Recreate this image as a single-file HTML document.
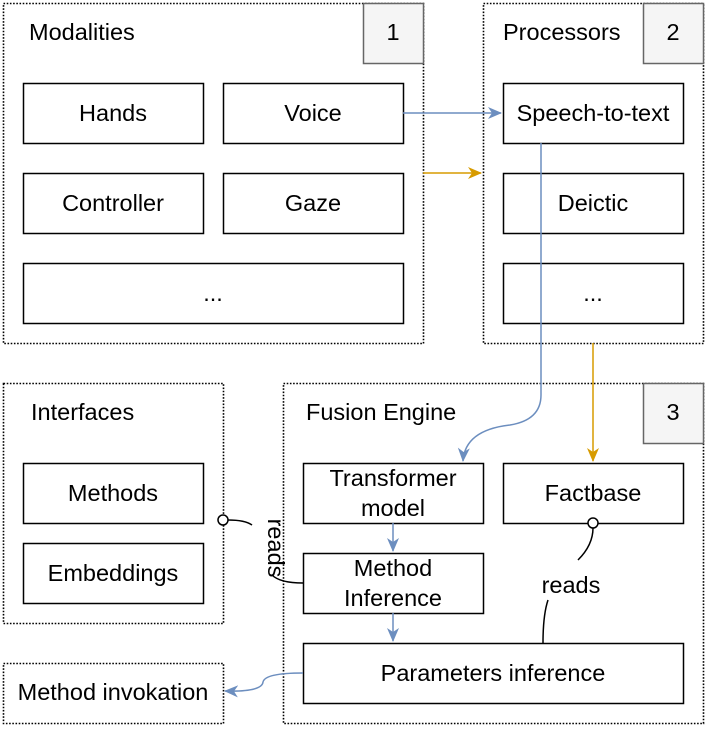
<!DOCTYPE html>
<html><head><meta charset="utf-8"><style>
html,body{margin:0;padding:0;background:#fff;}
svg text{font-family:"Liberation Sans",Arial,sans-serif;font-size:23.5px;fill:#000;}
</style></head><body>
<svg width="706" height="731" viewBox="0 0 706 731" xmlns="http://www.w3.org/2000/svg">
<defs>
<marker id="ab" markerWidth="14" markerHeight="14" refX="13" refY="7" orient="auto" markerUnits="userSpaceOnUse"><path d="M0,1 L14,7 L0,13 L4,7 Z" fill="#6c8ebf"/></marker>
<marker id="ao" markerWidth="14" markerHeight="14" refX="13" refY="7" orient="auto" markerUnits="userSpaceOnUse"><path d="M0,1 L14,7 L0,13 L4,7 Z" fill="#d79b00"/></marker>
</defs>
<g fill="none" stroke="#000" stroke-width="1.6" stroke-dasharray="1.6,1.6">
<rect x="3.5" y="3.5" width="420" height="340"/>
<rect x="483.5" y="3.5" width="220" height="340"/>
<rect x="3.5" y="383.5" width="220" height="240"/>
<rect x="283.5" y="383.5" width="420" height="340"/>
<rect x="3.5" y="663.5" width="220" height="60"/>
</g>
<g fill="#f5f5f5" stroke="#666" stroke-width="1.5">
<rect x="363.5" y="3.5" width="60" height="60"/>
<rect x="643.5" y="3.5" width="60" height="60"/>
<rect x="643.5" y="383.5" width="60" height="60"/>
</g>
<g fill="#fff" stroke="#000" stroke-width="1.5">
<rect x="23.5" y="83.5" width="180" height="60"/>
<rect x="223.5" y="83.5" width="180" height="60"/>
<rect x="23.5" y="173.5" width="180" height="60"/>
<rect x="223.5" y="173.5" width="180" height="60"/>
<rect x="23.5" y="263.5" width="380" height="60"/>
<rect x="503.5" y="83.5" width="180" height="60"/>
<rect x="503.5" y="173.5" width="180" height="60"/>
<rect x="503.5" y="263.5" width="180" height="60"/>
<rect x="23.5" y="463.5" width="180" height="60"/>
<rect x="23.5" y="543.5" width="180" height="60"/>
<rect x="303.5" y="463.5" width="180" height="60"/>
<rect x="503.5" y="463.5" width="180" height="60"/>
<rect x="303.5" y="553.5" width="180" height="60"/>
<rect x="303.5" y="643.5" width="380" height="60"/>
</g>
<g fill="none" stroke-width="1.5">
<path d="M403,113 L501,113" stroke="#6c8ebf" marker-end="url(#ab)"/>
<path d="M423,173 L481,173" stroke="#d79b00" marker-end="url(#ao)"/>
<path d="M541,143 L541,395 Q541,420 510,425 Q465,430 463,461" stroke="#6c8ebf" marker-end="url(#ab)"/>
<path d="M593,343 L593,461" stroke="#d79b00" marker-end="url(#ao)"/>
<path d="M393,523 L393,551" stroke="#6c8ebf" marker-end="url(#ab)"/>
<path d="M393,613 L393,641" stroke="#6c8ebf" marker-end="url(#ab)"/>
<path d="M303,673 Q265,673 263,682 Q262,692 225,691" stroke="#6c8ebf" marker-end="url(#ab)"/>
<path d="M228,520 Q245,520 252,525" stroke="#000"/>
<path d="M272,575 Q280,583 303,583" stroke="#000"/>
<path d="M593,528 Q593,545 578,560" stroke="#000"/>
<path d="M548,600 Q543,615 543,643" stroke="#000"/>
<circle cx="223" cy="520" r="5" stroke="#000" fill="#fff"/>
<circle cx="593" cy="523" r="5" stroke="#000" fill="#fff"/>
</g>
<g text-anchor="middle">
<text x="393" y="40">1</text><text x="673" y="40">2</text><text x="673" y="420">3</text>
<text x="113" y="121">Hands</text><text x="313" y="121">Voice</text>
<text x="113" y="211">Controller</text><text x="313" y="211">Gaze</text>
<text x="213" y="301">...</text>
<text x="593" y="121">Speech-to-text</text><text x="593" y="211">Deictic</text><text x="593" y="301">...</text>
<text x="113" y="501">Methods</text><text x="113" y="581">Embeddings</text>
<text x="393" y="486">Transformer</text><text x="393" y="516">model</text>
<text x="593" y="501">Factbase</text>
<text x="393" y="576">Method</text><text x="393" y="606">Inference</text>
<text x="493" y="681">Parameters inference</text>
<text x="113" y="700">Method invokation</text>
<text x="571" y="593" font-size="20">reads</text>
<text x="0" y="0" font-size="20" transform="translate(268,548) rotate(90)">reads</text>
</g>
<text x="29" y="40">Modalities</text>
<text x="503" y="40">Processors</text>
<text x="31" y="420">Interfaces</text>
<text x="306" y="420">Fusion Engine</text>
</svg>
</body></html>
